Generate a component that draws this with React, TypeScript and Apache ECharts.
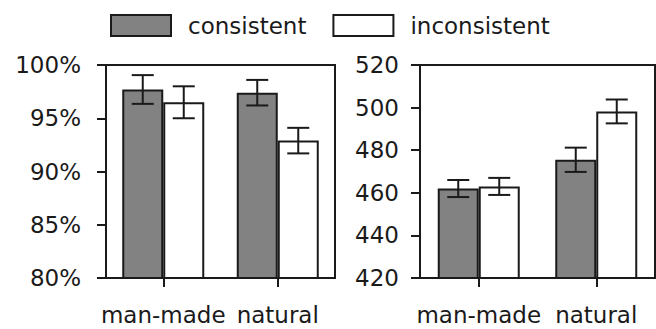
import React, { useEffect, useRef } from "react";
import * as echarts from "echarts";

const categories = ["man-made", "natural"];
const seriesNames = ["consistent", "inconsistent"];

// Left panel: accuracy (%)
const accConsistent = [97.7, 97.4];
const accConsistentErr = [1.35, 1.2];
const accInconsistent = [96.5, 92.9];
const accInconsistentErr = [1.5, 1.2];
const accAxis = { min: 80, max: 100, interval: 5 };

// Right panel: response time
const rtConsistent = [462, 475.5];
const rtConsistentErr = [4, 5.7];
const rtInconsistent = [463, 498.2];
const rtInconsistentErr = [4, 5.6];
const rtAxis = { min: 420, max: 520, interval: 20 };

const INK = "#1a1a1a";
const GRAY = "#828282";
const FONT = "DejaVu Sans";
const BAR_W = 41;

function errData(vals: number[], errs: number[]) {
  return vals.map((v, i) => [i, v - errs[i], v + errs[i]]);
}

function errSeries(name: string, gridIdx: number, data: number[][], offset: number) {
  return {
    name,
    type: "custom",
    xAxisIndex: gridIdx,
    yAxisIndex: gridIdx,
    z: 5,
    encode: { x: 0, y: [1, 2] },
    data,
    renderItem: (_params: any, api: any) => {
      const x = api.value(0);
      const lo = api.coord([x, api.value(1)]);
      const hi = api.coord([x, api.value(2)]);
      const cx = lo[0] + offset;
      const half = 11;
      const style = { stroke: INK, lineWidth: 2 };
      return {
        type: "group",
        children: [
          { type: "line", shape: { x1: cx, y1: hi[1], x2: cx, y2: lo[1] }, style },
          { type: "line", shape: { x1: cx - half, y1: hi[1], x2: cx + half, y2: hi[1] }, style },
          { type: "line", shape: { x1: cx - half, y1: lo[1], x2: cx + half, y2: lo[1] }, style },
        ],
      };
    },
  };
}

export default function App() {
  const ref = useRef<HTMLDivElement>(null);
  useEffect(() => {
    if (!ref.current) return;
    const chart = echarts.init(ref.current, undefined, { renderer: "svg" });
    const axisLine = { show: true, lineStyle: { color: INK, width: 2 } };
    const labelStyle = { color: INK, fontSize: 23, fontFamily: FONT };
    const xAxisBase = (gridIndex: number) => ({
      type: "category",
      gridIndex,
      data: categories,
      axisLine,
      axisTick: { show: true, alignWithLabel: true, length: 9, lineStyle: { color: INK, width: 2 } },
      axisLabel: { ...labelStyle, interval: 0, margin: 25 },
    });
    const yAxisBase = (gridIndex: number, ax: any, margin: number, fmt: string) => ({
      type: "value",
      gridIndex,
      min: ax.min,
      max: ax.max,
      interval: ax.interval,
      axisLine,
      axisTick: { show: true, length: 9, lineStyle: { color: INK, width: 2 } },
      splitLine: { show: false },
      axisLabel: { ...labelStyle, margin, formatter: fmt },
    });
    const barBase = (name: string, gridIdx: number, data: number[], fill: string) => ({
      name,
      type: "bar",
      xAxisIndex: gridIdx,
      yAxisIndex: gridIdx,
      barWidth: BAR_W,
      barGap: "0%",
      data,
      itemStyle: { color: fill, borderColor: INK, borderWidth: 2 },
    });
    chart.setOption({
      animation: false,
      backgroundColor: "#ffffff",
      legend: {
        data: seriesNames.map((n) => ({ name: n, icon: "rect" })),
        left: 110,
        top: 14,
        padding: 0,
        itemWidth: 60,
        itemHeight: 21,
        itemGap: 26,
        selectedMode: false,
        textStyle: { color: INK, fontSize: 23, fontFamily: FONT, padding: [0, 0, 0, 12] },
      },
      grid: [
        { left: 106, right: 321, top: 65, bottom: 51, show: true, borderColor: INK, borderWidth: 2 },
        { left: 420, right: 1, top: 65, bottom: 51, show: true, borderColor: INK, borderWidth: 2 },
      ],
      xAxis: [xAxisBase(0), xAxisBase(1)],
      yAxis: [
        yAxisBase(0, accAxis, 25, "{value}%"),
        yAxisBase(1, rtAxis, 21, "{value}"),
      ],
      series: [
        barBase(seriesNames[0], 0, accConsistent, GRAY),
        barBase(seriesNames[1], 0, accInconsistent, "#ffffff"),
        barBase(seriesNames[0], 1, rtConsistent, GRAY),
        barBase(seriesNames[1], 1, rtInconsistent, "#ffffff"),
        errSeries("err-acc-c", 0, errData(accConsistent, accConsistentErr), -BAR_W / 2),
        errSeries("err-acc-i", 0, errData(accInconsistent, accInconsistentErr), BAR_W / 2),
        errSeries("err-rt-c", 1, errData(rtConsistent, rtConsistentErr), -BAR_W / 2),
        errSeries("err-rt-i", 1, errData(rtInconsistent, rtInconsistentErr), BAR_W / 2),
      ],
    });
    return () => chart.dispose();
  }, []);
  return (
    <div
      ref={ref}
      style={{ position: "absolute", left: 0, top: 0, width: 656, height: 329 }}
    />
  );
}
